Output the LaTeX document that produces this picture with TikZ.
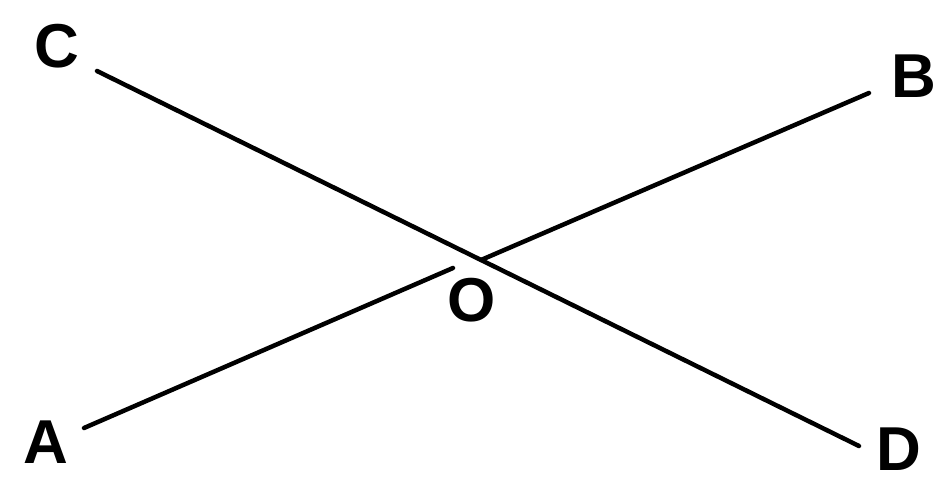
\documentclass[tikz,border=0pt]{standalone}
\usepackage{fontspec}
\setmainfont{Liberation Sans}
\tikzset{
  lbl/.style={font=\fontsize{62}{66}\selectfont\bfseries, inner sep=0pt, text=black},
  seg/.style={line width=4.5pt, line cap=round, black}
}
\begin{document}
\begin{tikzpicture}[x=1pt,y=-1pt]
\useasboundingbox[fill=white] (0,0) rectangle (942,484);
\node[lbl] (C) at (57,46) {C};
\node[lbl] (B) at (914,76) {B};
\node[lbl] (A) at (46,442) {A};
\node[lbl] (D) at (899,449) {D};
\node[lbl] (O) at (472,300) {O};
\coordinate (a) at (84,428);
\coordinate (a2) at (453,268);
\coordinate (b1) at (481,260);
\coordinate (b) at (869,93);
\coordinate (c) at (97,71);
\coordinate (d) at (859,446);
\draw[seg] (a) -- (a2);
\draw[seg] (b1) -- (b);
\draw[seg] (c) -- (d);
\end{tikzpicture}
\end{document}
